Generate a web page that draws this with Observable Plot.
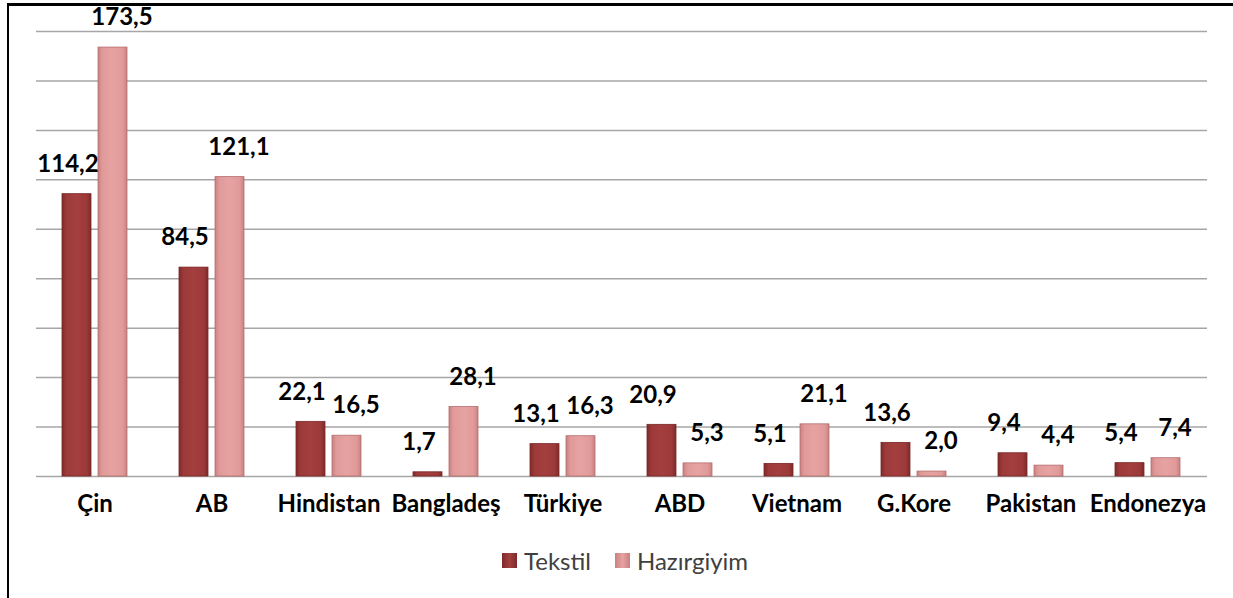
<!DOCTYPE html>
<html>
<head>
<meta charset="utf-8">
<script src="https://cdn.jsdelivr.net/npm/d3@7"></script>
<script src="https://cdn.jsdelivr.net/npm/@observablehq/plot@0.6"></script>
<style>
  html, body { margin: 0; padding: 0; background: #fff; }
  #wrap { position: relative; width: 1233px; height: 598px; overflow: hidden; font-family: Lato, "Liberation Sans", sans-serif; }
  #frame { position: absolute; left: 7px; top: 3px; width: 1240px; height: 610px; border-left: 2px solid #000; border-top: 3px solid #000; pointer-events: none; }
  #chart { position: absolute; left: 0; top: 0; }
  #legend { position: absolute; left: 502px; top: 546px; display: flex; align-items: center; font-size: 24px; color: #404040; }
  .sw { width: 15px; height: 15px; display: inline-block; margin-right: 7px; box-sizing: border-box; }
  .item { display: flex; align-items: center; margin-right: 24px; }
</style>
</head>
<body>
<div id="wrap">
  <div id="chart"></div>
  <div id="frame"></div>
  <div id="legend"></div>
</div>
<script>
const countries = ["Çin","AB","Hindistan","Bangladeş","Türkiye","ABD","Vietnam","G.Kore","Pakistan","Endonezya"];
const tekstil = [114.2, 84.5, 22.1, 1.7, 13.1, 20.9, 5.1, 13.6, 9.4, 5.4];
const hazirgiyim = [173.5, 121.1, 16.5, 28.1, 16.3, 5.3, 21.1, 2.0, 4.4, 7.4];
const seriesNames = ["Tekstil", "Hazırgiyim"];
const gridTicks = [0, 20, 40, 60, 80, 100, 120, 140, 160, 180];

const rowsT = countries.map((c, i) => ({country: c, value: tekstil[i]}));
const rowsH = countries.map((c, i) => ({country: c, value: hazirgiyim[i]}));
const fmt = v => v.toFixed(1).replace(".", ",");

const chart = Plot.plot({
  width: 1233,
  height: 540,
  marginLeft: 36,
  marginRight: 26,
  marginTop: 31,
  marginBottom: 64,
  style: {fontFamily: "Lato, 'Liberation Sans', sans-serif", background: "transparent"},
  x: {domain: countries, paddingInner: 0.444, paddingOuter: 0.222, label: null},
  y: {domain: [0, 180], axis: null},
  marks: [
    Plot.ruleY(gridTicks, {stroke: "#a6a6a6", strokeWidth: 1.5}),
    Plot.barY(rowsT, {x: "country", y: "value", fill: "url(#gT)", stroke: "#7a2626", strokeWidth: 0.8, insetRight: 36}),
    Plot.barY(rowsH, {x: "country", y: "value", fill: "url(#gH)", stroke: "#b56e6e", strokeWidth: 0.8, insetLeft: 36}),
    Plot.text(rowsT, {x: "country", y: "value", text: d => fmt(d.value), dx: -27, dy: -30, fontSize: 24, fontWeight: "bold", fill: "#000"}),
    Plot.text(rowsH, {x: "country", y: "value", text: d => fmt(d.value), dx: 27, dy: -30, fontSize: 24, fontWeight: "bold", fill: "#000"}),
    Plot.axisX({tickSize: 0, tickPadding: 18, fontSize: 24, fontWeight: "bold", fill: "#000", label: null})
  ]
});

const ns = "http://www.w3.org/2000/svg";
const defs = document.createElementNS(ns, "defs");
defs.innerHTML = `
  <linearGradient id="gT" x1="0" y1="0" x2="1" y2="0">
    <stop offset="0" stop-color="#7e2a2a"/>
    <stop offset="0.15" stop-color="#9c3939"/>
    <stop offset="0.5" stop-color="#a43f3f"/>
    <stop offset="0.85" stop-color="#9c3939"/>
    <stop offset="1" stop-color="#7e2a2a"/>
  </linearGradient>
  <linearGradient id="gH" x1="0" y1="0" x2="1" y2="0">
    <stop offset="0" stop-color="#c98080"/>
    <stop offset="0.15" stop-color="#e19a9a"/>
    <stop offset="0.5" stop-color="#e6a2a2"/>
    <stop offset="0.85" stop-color="#e19a9a"/>
    <stop offset="1" stop-color="#c98080"/>
  </linearGradient>`;
chart.insertBefore(defs, chart.firstChild);
document.getElementById("chart").appendChild(chart);

const legend = document.getElementById("legend");
const swatchFill = ["linear-gradient(90deg,#7e2a2a,#a43f3f,#7e2a2a)", "linear-gradient(90deg,#c98080,#e6a2a2,#c98080)"];
seriesNames.forEach((name, i) => {
  const item = document.createElement("span");
  item.className = "item";
  const sw = document.createElement("span");
  sw.className = "sw";
  sw.style.background = swatchFill[i];
  item.appendChild(sw);
  item.appendChild(document.createTextNode(name));
  legend.appendChild(item);
});
</script>
</body>
</html>
